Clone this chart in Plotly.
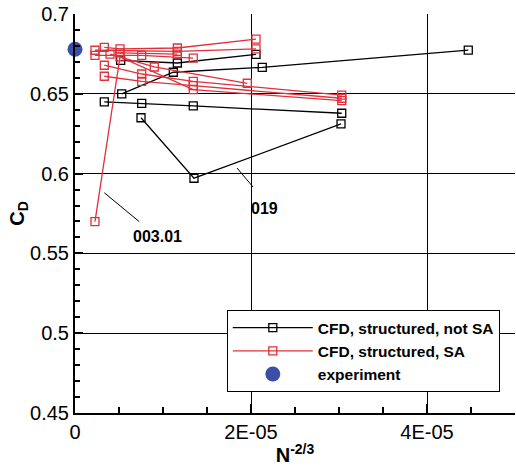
import plotly.graph_objects as go

# ---------------- data ----------------
# black series: CFD, structured, not SA
bA_x = [5.31e-6, 1.117e-5, 2.128e-5, 4.469e-5]
bA_y = [0.6499, 0.6635, 0.6666, 0.6774]
bB_x = [5.19e-6, 1.163e-5, 2.057e-5]
bB_y = [0.6710, 0.6693, 0.6747]
bC_x = [3.33e-6, 7.58e-6, 1.344e-5, 3.031e-5]
bC_y = [0.6450, 0.6440, 0.6424, 0.6378]
bD_x = [7.50e-6, 1.352e-5, 3.023e-5]
bD_y = [0.6350, 0.5971, 0.6311]

# red series: CFD, structured, SA
r1_x = [3.33e-6, 5.11e-6, 1.163e-5, 2.057e-5]
r1_y = [0.6791, 0.6781, 0.6787, 0.6843]
r2_x = [2.27e-6, 1.163e-5, 2.057e-5]
r2_y = [0.6773, 0.6766, 0.6781]
r3_x = [2.27e-6, 7.58e-6, 1.344e-5]
r3_y = [0.6741, 0.6741, 0.6724]
r4_x = [3.98e-6, 9.01e-6, 1.958e-5]
r4_y = [0.6749, 0.6668, 0.6566]
r5_x = [3.33e-6, 7.58e-6, 1.344e-5, 3.031e-5]
r5_y = [0.6679, 0.6624, 0.6578, 0.6492]
r6_x = [3.33e-6, 7.58e-6, 1.344e-5, 3.031e-5]
r6_y = [0.6610, 0.6578, 0.6551, 0.6472]
r7_x = [2.27e-6, 5.11e-6, 1.344e-5, 3.031e-5]
r7_y = [0.5699, 0.6731, 0.6526, 0.6457]
r8_x = [5.11e-6, 1.163e-5]
r8_y = [0.6756, 0.6749]

exp_x = [0.0]
exp_y = [0.6779]

x_tickvals = [0, 2e-5, 4e-5]
x_ticktext = ["0", "2E-05", "4E-05"]

BLACK = "#000000"
RED = "#e0303a"
BLUE = "#3c4fa6"

fig = go.Figure()

def add_series(xs, ys, color, name, show):
    fig.add_trace(go.Scatter(
        x=xs, y=ys, mode="lines+markers", name=name, showlegend=show,
        legendgroup=name,
        line=dict(color=color, width=1.3),
        marker=dict(symbol="square-open", size=8, color=color,
                    line=dict(width=1.3, color=color)),
    ))

black = [(bA_x, bA_y), (bB_x, bB_y), (bC_x, bC_y), (bD_x, bD_y)]
red = [(r1_x, r1_y), (r2_x, r2_y), (r3_x, r3_y), (r4_x, r4_y),
       (r5_x, r5_y), (r6_x, r6_y), (r7_x, r7_y), (r8_x, r8_y)]

for i, (xs, ys) in enumerate(black):
    add_series(xs, ys, BLACK, "CFD, structured, not SA", i == 0)
for i, (xs, ys) in enumerate(red):
    add_series(xs, ys, RED, "CFD, structured, SA", i == 0)

fig.add_trace(go.Scatter(
    x=exp_x, y=exp_y, mode="markers", name="experiment",
    marker=dict(symbol="circle", size=15, color=BLUE),
    cliponaxis=False,
))

FONT = "Arial, Liberation Sans, sans-serif"

fig.update_layout(
    width=516, height=466,
    margin=dict(l=75, r=1, t=14, b=53),
    paper_bgcolor="white", plot_bgcolor="white",
    font=dict(family=FONT, color="black"),
    showlegend=True,
    legend=dict(
        x=0.345, y=0.258, xanchor="left", yanchor="top",
        bgcolor="white", bordercolor="black", borderwidth=1,
        font=dict(size=15.5, family=FONT, weight="bold"),
        itemwidth=80, tracegroupgap=0,
    ),
    xaxis=dict(
        range=[0, 5e-5], tickvals=x_tickvals, ticktext=x_ticktext,
        ticks="inside", ticklen=9, tickwidth=1.5, tickcolor="black",
        showline=True, linecolor="black", linewidth=2,
        showgrid=True, gridcolor="black", gridwidth=1,
        zeroline=False,
        tickfont=dict(size=20, family=FONT),
        minor=dict(dtick=5e-6, ticks="inside", ticklen=6, tickcolor="black",
                   showgrid=False),
        title=dict(text="N<sup>-2/3</sup>", font=dict(size=20, family=FONT, weight="bold"),
                   standoff=0),
    ),
    yaxis=dict(
        range=[0.45, 0.7], dtick=0.05, tick0=0.45,
        ticks="inside", ticklen=8, tickwidth=1.5, tickcolor="black",
        showline=True, linecolor="black", linewidth=2,
        showgrid=True, gridcolor="black", gridwidth=1,
        zeroline=False,
        tickfont=dict(size=20, family=FONT),
        minor=dict(dtick=0.01, ticks="inside", ticklen=5, tickcolor="black",
                   showgrid=False),
        title=dict(text="C<sub>D</sub>", font=dict(size=20, family=FONT, weight="bold"),
                   standoff=0),
    ),
)

# annotations with leader lines
fig.add_annotation(x=9.43e-6, y=0.5603, text="003.01", showarrow=False,
                   font=dict(size=16, family=FONT, weight="bold"))
fig.add_shape(type="line", x0=3.33e-6, y0=0.588, x1=7.3e-6, y1=0.5699,
              line=dict(color="black", width=1))
fig.add_annotation(x=2.148e-5, y=0.5784, text="019", showarrow=False,
                   font=dict(size=16, family=FONT, weight="bold"))
fig.add_shape(type="line", x0=1.841e-5, y0=0.6035, x1=2.023e-5, y1=0.5916,
              line=dict(color="black", width=1))

fig.write_html("out.html")
